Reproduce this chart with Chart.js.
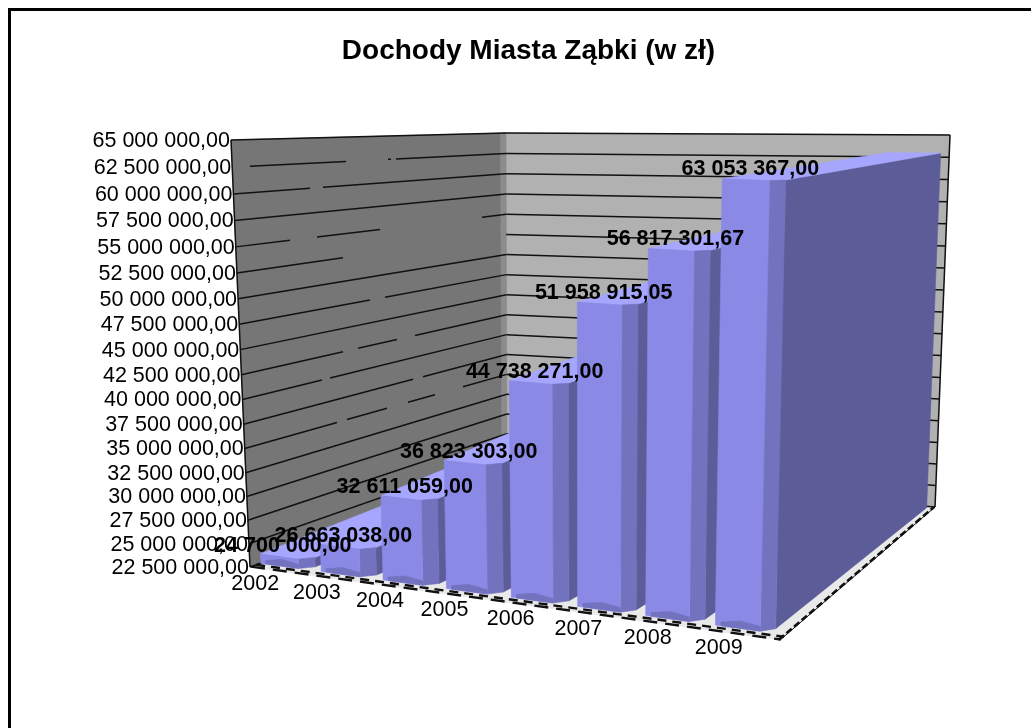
<!DOCTYPE html>
<html><head><meta charset="utf-8">
<style>
html,body{margin:0;padding:0;background:#fff;overflow:hidden}
#frame{position:absolute;left:8px;top:8px;width:1100px;height:900px;border-left:3px solid #000;border-top:3px solid #000}
#c{position:absolute;left:38px;top:11px}
</style>
<script src="https://cdn.jsdelivr.net/npm/chart.js@4/dist/chart.umd.min.js"></script>
</head><body>
<div id="frame"></div>
<canvas id="c" width="981" height="700"></canvas>
<script>
const categories=['2002','2003','2004','2005','2006','2007','2008','2009'];
const incomes=[24700000,26663038,32611059,36823303,44738271,51958915.05,56817301.67,63053367];
const yMin=22500000,yMax=65000000,yStep=2500000;
const fontFamily='"Liberation Sans",Arial,sans-serif';
const OX=38,OY=11;
// box corners on the page (floor and ceiling): front-left, front-right, back-right, back-left
const floorQ=[[250,567],[780,640],[935,507],[507,473]];
const ceilQ=[[231,140],[791,160],[950,135],[506,133]];
const C={left:'#767676',leftEdge:'#8c8c8c',back:'#b1b1b1',floor:'#e9e9e9',front:'#8a8ae6',mid:'#7272bf',dark:'#5c5c98',top:'#a6a6ff',line:'#111'};
const Q=1.1,D0=0.04,D1=0.99,CH=0.03,USHIFT=-0.0127,REAR_K=1.05,REAR_U=0.012;
// breaks in the wall rules of the source picture: tick value -> page-x ranges
const wallGaps={62500000:[[231,250],[346,388],[391,396]],60000000:[[310,323]],55000000:[[290,317],[380,482]],52500000:[[343,506]],47500000:[[370,385]],42500000:[[343,358],[397,415]],40000000:[[322,330]],37500000:[[413,423]],35000000:[[337,347],[387,408],[435,463]]};
const warp=u=>u/(u+Q*(1-u));
const bil=(q,u,d)=>{const a=[q[0][0]+(q[1][0]-q[0][0])*u,q[0][1]+(q[1][1]-q[0][1])*u],b=[q[3][0]+(q[2][0]-q[3][0])*u,q[3][1]+(q[2][1]-q[3][1])*u];return [a[0]+(b[0]-a[0])*d,a[1]+(b[1]-a[1])*d];};
const lift=(t,k)=>t/(t+k*(1-t));
const barK=t=>1.32-.3*t+.003/(t*t);
// u: 0..1 along the category axis, d: 0..1 depth, t: 0..1 along the value axis
function P(u,d,t,k){const w=warp(u),f=bil(floorQ,w,d),c=bil(ceilQ,w,d),h=lift(t,k);return [f[0]+(c[0]-f[0])*h,f[1]+(c[1]-f[1])*h];}
function poly(ctx,pts,fill,stroke){ctx.beginPath();pts.forEach((p,i)=>i?ctx.lineTo(p[0],p[1]):ctx.moveTo(p[0],p[1]));ctx.closePath();if(fill){ctx.fillStyle=fill;ctx.fill();ctx.strokeStyle=fill;ctx.lineWidth=.6;ctx.stroke();}if(stroke){ctx.strokeStyle=stroke;ctx.stroke();}}
function seg(ctx,a,b,w,dash){ctx.beginPath();ctx.setLineDash(dash||[]);ctx.lineWidth=w;ctx.strokeStyle=C.line;ctx.moveTo(a[0],a[1]);ctx.lineTo(b[0],b[1]);ctx.stroke();ctx.setLineDash([]);}
const wallK=d=>1.085*(1-d)+1.02*d;
const fmt=v=>{const s=v.toFixed(2).split('.');return s[0].replace(/\B(?=(\d{3})+$)/g,' ')+','+s[1];};

const box3d={id:'box3d',
 beforeDatasetsDraw(chart){
  const ctx=chart.ctx,y=chart.scales.y;ctx.save();ctx.translate(-OX,-OY);
  const tOf=v=>(y.bottom-y.getPixelForValue(v))/(y.bottom-y.top);
  poly(ctx,[P(0,0,0,1),P(0,1,0,1),P(1,1,0,1),P(1,0,0,1)],C.floor);
  poly(ctx,[P(0,0,0,1),P(0,1,0,1),P(0,1,1,1),P(0,0,1,1)],C.left);
  poly(ctx,[P(0,1,0,1),P(1,1,0,1),P(1,1,1,1),P(0,1,1,1)],C.back);
  poly(ctx,[P(0,.98,0,1),P(0,1,0,1),P(0,1,1,1),P(0,.98,1,1)],C.leftEdge);
  y.ticks.forEach(tk=>{const t=tOf(tk.value);
   const a=P(0,0,t,wallK(0)),b=P(0,1,t,wallK(1));
   const at=x=>{const s=(x-a[0])/(b[0]-a[0]);return [x,a[1]+(b[1]-a[1])*s];};
   let cur=a[0];
   (wallGaps[tk.value]||[]).forEach(g=>{if(g[0]>cur)seg(ctx,at(cur),at(g[0]),1.5);cur=Math.max(cur,g[1]);});
   if(cur<b[0])seg(ctx,at(cur),b,1.5);
   seg(ctx,P(0,1,t,wallK(1)),P(1,1,t,wallK(1)),1.5);
  });
  seg(ctx,P(0,0,0,1),P(0,0,1,1),1.5);
  seg(ctx,P(1,1,0,1),P(1,1,1,1),1.5);
  // floor edges
  [0.004,0.024].forEach((d,i)=>seg(ctx,P(0,d,0,1),P(1,d,0,1),2.4,i?[9,6]:[14,8]));
  seg(ctx,P(1,0,0,1),P(1,1,0,1),1);
  seg(ctx,P(.998,0,0,1),P(.998,1,0,1),2.6,[7,3]);
  ctx.restore();
 },
 afterDatasetsDraw(chart){
  const ctx=chart.ctx,y=chart.scales.y,x=chart.scales.x;
  const meta=chart.getDatasetMeta(0);ctx.save();ctx.translate(-OX,-OY);
  meta.data.forEach(bar=>{
   const u0=(bar.x-bar.width/2-x.left)/x.width+USHIFT,u1=(bar.x+bar.width/2-x.left)/x.width+USHIFT;
   const t=(y.bottom-bar.y)/(y.bottom-y.top),k=barK(t);
   const w=u1-u0,uc=u0+w*.81,dc=D0+CH,ur=u1+REAR_U;
   // right side, full depth
   poly(ctx,[P(u1,dc,0,k),P(ur,D1,0,k),P(ur,D1,t,REAR_K),P(u1,dc,t,k)],C.dark);
   // top
   poly(ctx,[P(u0,D0,t,k),P(uc,D0,t,k),P(u1,dc,t,k),P(ur,D1,t,REAR_K),P(u0,D1,t,REAR_K)],C.top);
   // chamfer and front
   poly(ctx,[P(uc,D0,0,k),P(u1,dc,0,k),P(u1,dc,t,k),P(uc,D0,t,k)],C.mid);
   poly(ctx,[P(u0,D0,0,k),P(uc,D0,0,k),P(uc,D0,t,k),P(u0,D0,t,k)],C.front);
   // shaded foot of the front face
   const h=Math.min(t,.016);
   poly(ctx,[P(u0+w*.1,D0,0,1),P(uc,D0,0,1),P(uc,D0,h*.6,1),P(u0+w*.45,D0,h,1),P(u0+w*.1,D0,h*.5,1)],C.mid);
  });
  // axis text
  ctx.fillStyle='#000';ctx.textBaseline='middle';
  ctx.font='21.5px '+fontFamily;ctx.textAlign='right';
  y.ticks.forEach(tk=>{const t=(y.bottom-y.getPixelForValue(tk.value))/(y.bottom-y.top),p=P(0,0,t,wallK(0));
   ctx.fillText(tk.label,p[0]-1,p[1]+1);});
  ctx.textAlign='center';
  x.ticks.forEach((tk,i)=>{const u=(x.getPixelForTick(i)-x.left)/x.width,p=P(u,0,0,1);
   ctx.fillText(x.getLabelForValue(tk.value),p[0]-25,p[1]+13);});
  // value labels
  ctx.font='bold 21.5px '+fontFamily;
  meta.data.forEach((bar,i)=>{
   const u=(bar.x-x.left)/x.width+USHIFT,t=(y.bottom-bar.y)/(y.bottom-y.top),p=P(u,D0,t,barK(t));
   ctx.fillText(fmt(incomes[i]),p[0]-1,p[1]-11);});
  ctx.restore();
 }};

new Chart(document.getElementById('c'),{
 type:'bar',
 data:{labels:categories,datasets:[{data:incomes,backgroundColor:'rgba(0,0,0,0)',barPercentage:.78,categoryPercentage:1}]},
 options:{responsive:false,animation:false,devicePixelRatio:1,
  layout:{padding:{left:20,right:20,top:0,bottom:20}},
  plugins:{legend:{display:false},tooltip:{enabled:false},
   title:{display:true,text:'Dochody Miasta Ząbki (w zł)',color:'#000',font:{family:fontFamily,size:28,weight:'bold'},padding:{top:23,bottom:20}}},
  scales:{
   x:{grid:{display:false},border:{display:false},ticks:{display:false}},
   y:{min:yMin,max:yMax,grid:{display:false},border:{display:false},
      ticks:{display:false,stepSize:yStep,callback:v=>fmt(v)}}
  }},
 plugins:[box3d]});
</script>
</body></html>
